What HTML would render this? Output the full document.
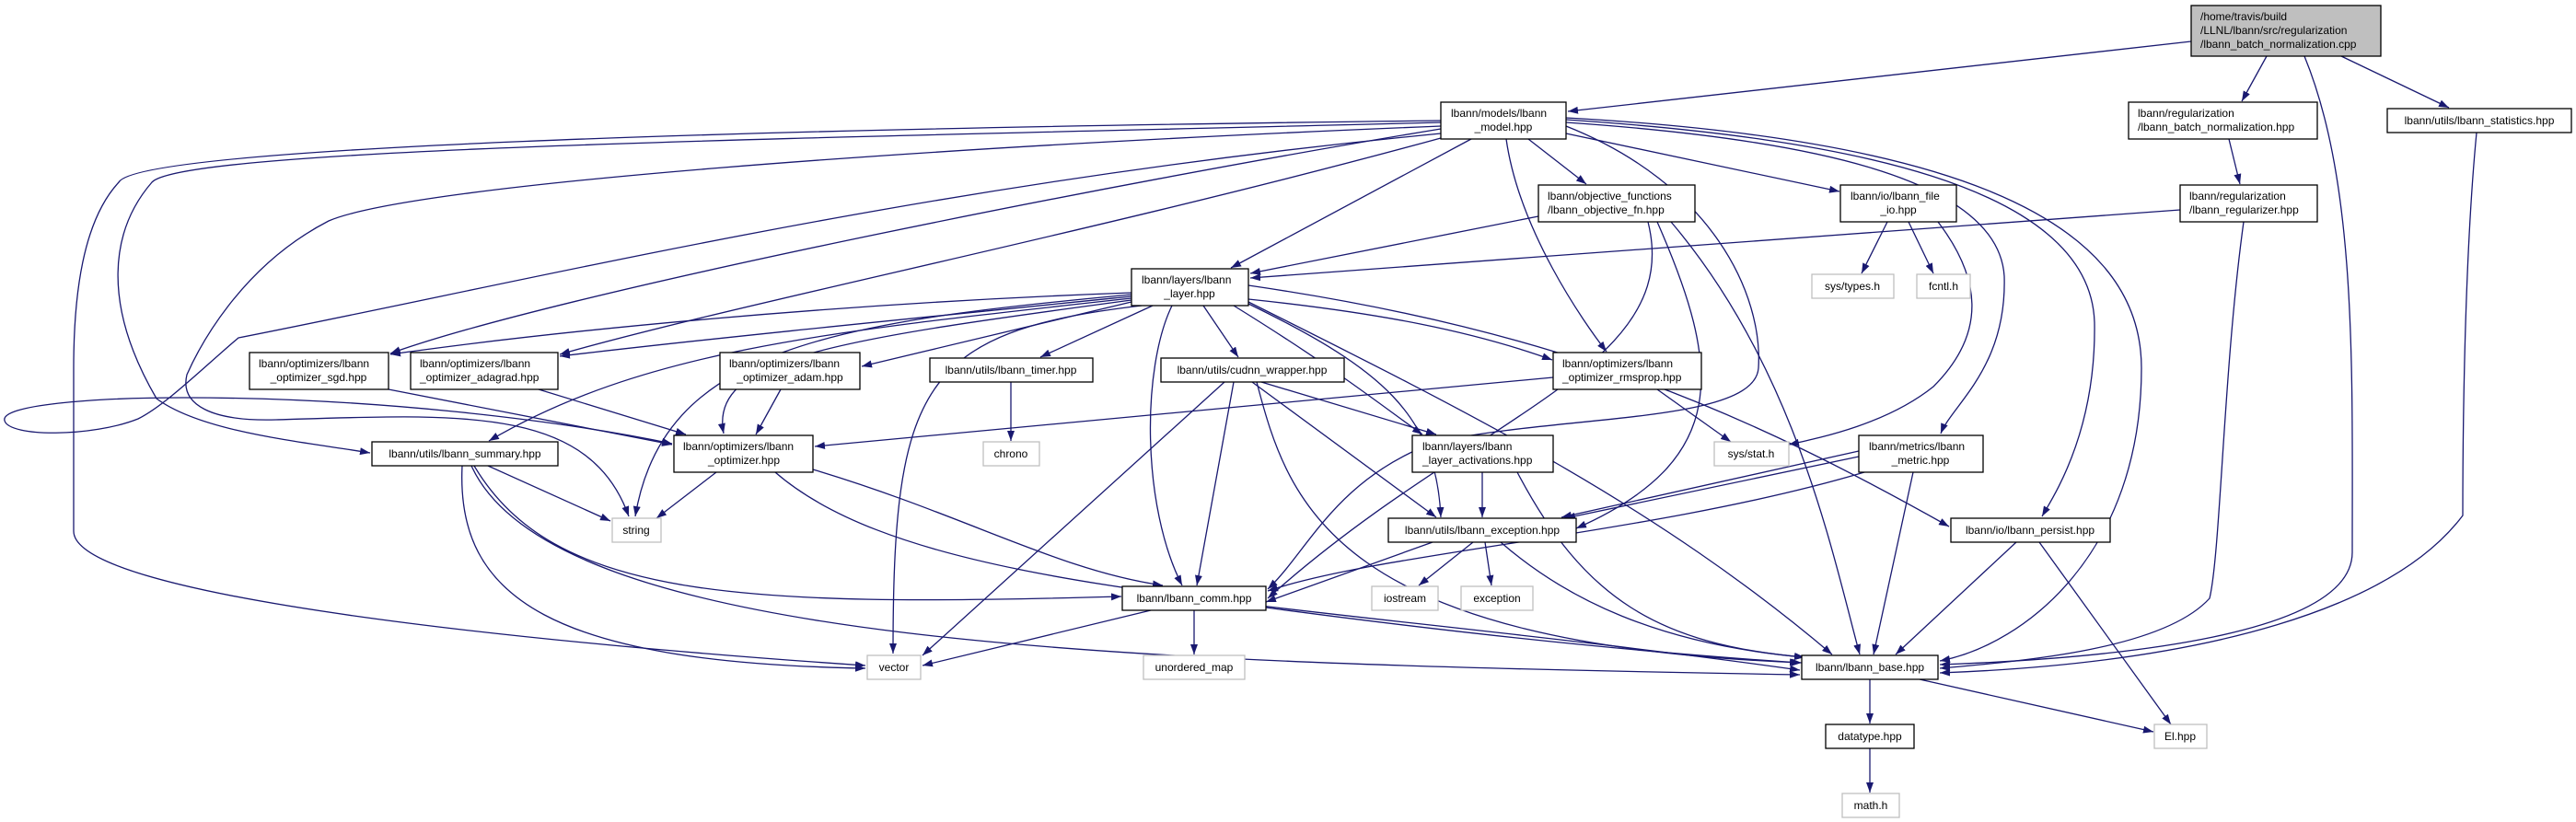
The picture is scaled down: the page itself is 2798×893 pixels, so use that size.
<!DOCTYPE html>
<html><head><meta charset="utf-8"><style>
html,body{margin:0;padding:0;background:#fff;}
svg{display:block;}
text{font-family:"Liberation Sans",sans-serif;font-size:12px;fill:#000;}
.e{fill:none;stroke:#191970;stroke-width:1.3;marker-end:url(#a);}
.n{fill:#fff;stroke:#000;stroke-width:1.3;}
.g{fill:#fff;stroke:#bfbfbf;stroke-width:1.3;}
</style></head><body>
<svg width="2798" height="893" viewBox="0 0 2798 893" xmlns="http://www.w3.org/2000/svg">
<defs><marker id="a" markerUnits="userSpaceOnUse" markerWidth="11" markerHeight="8" refX="11" refY="4" orient="auto"><path d="M0,0 L11,4 L0,8 z" fill="#191970"/></marker></defs>
<!-- edges -->
<path class="e" d="M2380,45 L1703,121"/>
<path class="e" d="M2462,61 L2435,110"/>
<path class="e" d="M2543,61 L2660,117"/>
<path class="e" d="M2503,61 C2560,200 2555,400 2555,600 C2555,690 2300,715 2107,722"/>
<path class="e" d="M2421,151 L2433,200"/>
<path class="e" d="M2368,228 L1358,302"/>
<path class="e" d="M2437,241 C2415,400 2412,600 2400,650 C2350,705 2200,718 2107,726"/>
<path class="e" d="M2690,144 C2675,300 2675,520 2675,560 C2600,660 2400,720 2107,731"/>
<path class="e" d="M1598,151 L1337,291"/>
<path class="e" d="M1660,151 L1723,200"/>
<path class="e" d="M1701,145 L1998,208"/>
<path class="e" d="M1636,151 C1650,250 1720,350 1745,382"/>
<path class="e" d="M1565,140 C1200,200 600,320 424,384"/>
<path class="e" d="M1565,150 C1200,250 800,330 608,385"/>
<path class="e" d="M1565,133 C900,150 200,160 165,198 C120,250 110,330 170,433 C220,470 330,480 402,492"/>
<path class="e" d="M1565,131 C800,140 150,160 129,198 C90,240 80,320 80,400 L80,577 C80,650 600,700 940,723"/>
<path class="e" d="M1565,137 C1000,160 450,200 357,240 C260,290 215,380 203,407 C195,440 230,458 300,456 C500,450 640,440 683,561"/>
<path class="e" d="M1565,145 C1000,200 600,300 259,367 C220,400 180,440 150,455 C100,475 10,475 5,457 C0,440 100,432 200,432 C400,432 600,455 730,482"/>
<path class="e" d="M1701,137 C1860,200 1915,320 1910,400 C1905,460 1700,450 1560,480 C1450,520 1420,600 1377,640"/>
<path class="e" d="M1701,133 C1950,150 2170,190 2177,300 C2180,400 2120,440 2108,471"/>
<path class="e" d="M1701,130 C2000,150 2270,200 2275,350 C2277,470 2230,540 2218,561"/>
<path class="e" d="M1701,128 C2100,150 2326,230 2326,400 C2326,600 2200,700 2107,718"/>
<path class="e" d="M1229,318 C900,330 600,360 424,385"/>
<path class="e" d="M1229,322 C950,350 750,370 608,387"/>
<path class="e" d="M1229,328 L936,398"/>
<path class="e" d="M1252,332 L1130,388"/>
<path class="e" d="M1307,332 L1345,388"/>
<path class="e" d="M1356,325 C1500,340 1600,360 1686,391"/>
<path class="e" d="M1229,326 C900,370 770,390 786,471"/>
<path class="e" d="M1229,324 C900,360 700,380 531,479"/>
<path class="e" d="M1229,320 C900,350 720,380 690,561"/>
<path class="e" d="M1240,332 C1000,360 970,420 970,710"/>
<path class="e" d="M1273,332 C1240,400 1240,550 1284,636"/>
<path class="e" d="M1340,332 C1450,400 1500,440 1545,472"/>
<path class="e" d="M1356,330 C1500,400 1560,450 1565,562"/>
<path class="e" d="M1356,328 C1600,450 1800,550 1990,711"/>
<path class="e" d="M1356,310 C1700,360 1900,450 2117,572"/>
<path class="e" d="M848,423 L821,472"/>
<path class="e" d="M422,423 L730,483"/>
<path class="e" d="M585,423 L745,472"/>
<path class="e" d="M1671,235 L1358,297"/>
<path class="e" d="M1790,241 C1830,400 1600,450 1377,650"/>
<path class="e" d="M1800,241 C1870,400 1880,500 1712,574"/>
<path class="e" d="M1815,241 C1950,400 1990,600 2020,711"/>
<path class="e" d="M2050,241 L2022,297"/>
<path class="e" d="M2073,241 L2100,297"/>
<path class="e" d="M2105,241 C2150,300 2160,360 2100,420 C2050,460 1980,475 1943,483"/>
<path class="e" d="M1687,410 L885,485"/>
<path class="e" d="M1800,423 L1880,480"/>
<path class="e" d="M1098,415 L1098,479"/>
<path class="e" d="M1330,415 L1002,712"/>
<path class="e" d="M1340,415 L1300,636"/>
<path class="e" d="M1360,415 L1560,562"/>
<path class="e" d="M1370,415 L1560,472"/>
<path class="e" d="M1365,415 C1400,550 1450,700 1957,720"/>
<path class="e" d="M530,506 L663,566"/>
<path class="e" d="M502,506 C495,650 600,720 940,726"/>
<path class="e" d="M515,506 C600,650 800,660 1218,648"/>
<path class="e" d="M512,506 C600,700 1200,720 1955,733"/>
<path class="e" d="M778,513 L713,563"/>
<path class="e" d="M883,510 C1050,560 1150,620 1263,636"/>
<path class="e" d="M842,513 C1000,650 1400,650 1955,728"/>
<path class="e" d="M1610,513 L1610,562"/>
<path class="e" d="M1648,513 C1720,650 1800,700 1960,714"/>
<path class="e" d="M2019,490 L1696,562"/>
<path class="e" d="M2019,496 L1700,563"/>
<path class="e" d="M2025,513 C1800,580 1500,600 1377,642"/>
<path class="e" d="M2078,513 L2035,711"/>
<path class="e" d="M1556,589 L1375,654"/>
<path class="e" d="M1600,589 L1541,636"/>
<path class="e" d="M1613,589 L1620,636"/>
<path class="e" d="M1630,589 C1700,650 1800,700 1960,714"/>
<path class="e" d="M2190,589 L2059,711"/>
<path class="e" d="M2215,589 L2358,787"/>
<path class="e" d="M1250,663 L1002,723"/>
<path class="e" d="M1297,663 L1297,711"/>
<path class="e" d="M1375,660 C1600,690 1800,710 1955,720"/>
<path class="e" d="M2031,738 L2031,786"/>
<path class="e" d="M2085,738 L2339,795"/>
<path class="e" d="M2031,813 L2031,861"/>
<!-- nodes -->
<rect x="2380" y="6" width="206" height="55" fill="#bfbfbf" stroke="#000" stroke-width="1.3"/>
<text x="2390" y="22">/home/travis/build</text><text x="2390" y="37">/LLNL/lbann/src/regularization</text><text x="2390" y="52">/lbann_batch_normalization.cpp</text>
<rect class="n" x="1565" y="111" width="136" height="40"/><text x="1576" y="127">lbann/models/lbann</text><text x="1633" y="142" text-anchor="middle">_model.hpp</text>
<rect class="n" x="2312" y="111" width="205" height="40"/><text x="2322" y="127">lbann/regularization</text><text x="2322" y="142">/lbann_batch_normalization.hpp</text>
<rect class="n" x="2593" y="118" width="200" height="26"/><text x="2693" y="135" text-anchor="middle">lbann/utils/lbann_statistics.hpp</text>
<rect class="n" x="1671" y="201" width="170" height="40"/><text x="1681" y="217">lbann/objective_functions</text><text x="1681" y="232">/lbann_objective_fn.hpp</text>
<rect class="n" x="1999" y="201" width="126" height="40"/><text x="2010" y="217">lbann/io/lbann_file</text><text x="2062" y="232" text-anchor="middle">_io.hpp</text>
<rect class="n" x="2368" y="201" width="149" height="40"/><text x="2378" y="217">lbann/regularization</text><text x="2378" y="232">/lbann_regularizer.hpp</text>
<rect class="g" x="1968" y="298" width="89" height="26"/><text x="2012" y="315" text-anchor="middle">sys/types.h</text>
<rect class="g" x="2082" y="298" width="58" height="26"/><text x="2111" y="315" text-anchor="middle">fcntl.h</text>
<rect class="n" x="1229" y="292" width="127" height="40"/><text x="1240" y="308">lbann/layers/lbann</text><text x="1292" y="323" text-anchor="middle">_layer.hpp</text>
<rect class="n" x="271" y="383" width="151" height="40"/><text x="281" y="399">lbann/optimizers/lbann</text><text x="346" y="414" text-anchor="middle">_optimizer_sgd.hpp</text>
<rect class="n" x="446" y="383" width="160" height="40"/><text x="456" y="399">lbann/optimizers/lbann</text><text x="456" y="414">_optimizer_adagrad.hpp</text>
<rect class="n" x="782" y="383" width="152" height="40"/><text x="792" y="399">lbann/optimizers/lbann</text><text x="858" y="414" text-anchor="middle">_optimizer_adam.hpp</text>
<rect class="n" x="1010" y="389" width="177" height="26"/><text x="1098" y="406" text-anchor="middle">lbann/utils/lbann_timer.hpp</text>
<rect class="n" x="1261" y="389" width="199" height="26"/><text x="1360" y="406" text-anchor="middle">lbann/utils/cudnn_wrapper.hpp</text>
<rect class="n" x="1687" y="383" width="161" height="40"/><text x="1697" y="399">lbann/optimizers/lbann</text><text x="1697" y="414">_optimizer_rmsprop.hpp</text>
<rect class="n" x="404" y="480" width="202" height="26"/><text x="505" y="497" text-anchor="middle">lbann/utils/lbann_summary.hpp</text>
<rect class="n" x="732" y="473" width="151" height="40"/><text x="742" y="489">lbann/optimizers/lbann</text><text x="808" y="504" text-anchor="middle">_optimizer.hpp</text>
<rect class="g" x="1068" y="480" width="61" height="26"/><text x="1098" y="497" text-anchor="middle">chrono</text>
<rect class="n" x="1534" y="473" width="153" height="40"/><text x="1545" y="489">lbann/layers/lbann</text><text x="1545" y="504">_layer_activations.hpp</text>
<rect class="g" x="1862" y="480" width="81" height="26"/><text x="1902" y="497" text-anchor="middle">sys/stat.h</text>
<rect class="n" x="2019" y="473" width="135" height="40"/><text x="2030" y="489">lbann/metrics/lbann</text><text x="2086" y="504" text-anchor="middle">_metric.hpp</text>
<rect class="g" x="665" y="563" width="53" height="26"/><text x="691" y="580" text-anchor="middle">string</text>
<rect class="n" x="1508" y="563" width="204" height="26"/><text x="1610" y="580" text-anchor="middle">lbann/utils/lbann_exception.hpp</text>
<rect class="n" x="2119" y="563" width="173" height="26"/><text x="2205" y="580" text-anchor="middle">lbann/io/lbann_persist.hpp</text>
<rect class="n" x="1219" y="637" width="156" height="26"/><text x="1297" y="654" text-anchor="middle">lbann/lbann_comm.hpp</text>
<rect class="g" x="1490" y="637" width="72" height="26"/><text x="1526" y="654" text-anchor="middle">iostream</text>
<rect class="g" x="1587" y="637" width="78" height="26"/><text x="1626" y="654" text-anchor="middle">exception</text>
<rect class="g" x="942" y="712" width="58" height="26"/><text x="971" y="729" text-anchor="middle">vector</text>
<rect class="g" x="1242" y="712" width="110" height="26"/><text x="1297" y="729" text-anchor="middle">unordered_map</text>
<rect class="n" x="1957" y="712" width="148" height="26"/><text x="2031" y="729" text-anchor="middle">lbann/lbann_base.hpp</text>
<rect class="n" x="1983" y="787" width="96" height="26"/><text x="2031" y="804" text-anchor="middle">datatype.hpp</text>
<rect class="g" x="2340" y="787" width="57" height="26"/><text x="2368" y="804" text-anchor="middle">El.hpp</text>
<rect class="g" x="2001" y="862" width="62" height="26"/><text x="2032" y="879" text-anchor="middle">math.h</text>
</svg>
</body></html>
